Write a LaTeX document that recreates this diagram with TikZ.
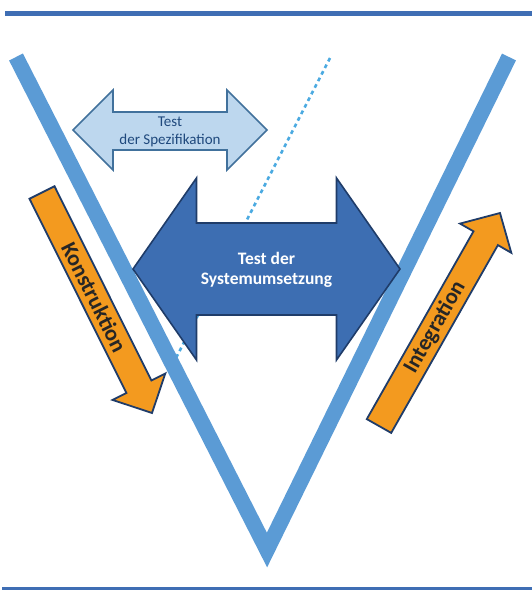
\documentclass[tikz,border=0pt]{standalone}
\usepackage{fontspec}
\setmainfont{Carlito}
\usetikzlibrary{calc}

\definecolor{rulebl}{RGB}{63,110,180}
\definecolor{vblue}{RGB}{91,155,213}
\definecolor{dotbl}{RGB}{75,170,225}
\definecolor{specfill}{RGB}{189,215,238}
\definecolor{specline}{RGB}{65,113,156}
\definecolor{spectxt}{RGB}{31,73,125}
\definecolor{sysfill}{RGB}{61,110,178}
\definecolor{navy}{RGB}{31,60,105}
\definecolor{orangefill}{RGB}{243,154,31}
\definecolor{darktext}{RGB}{38,38,38}

\tikzset{
  rulebar/.style={fill=rulebl},
  vline/.style={draw=vblue, line width=15.5pt, line join=miter},
  guide/.style={draw=dotbl, line width=2.6pt, dash pattern=on 3.8pt off 3.6pt},
  specarrow/.style={fill=specfill, draw=specline, line width=1.6pt, line join=miter},
  sysarrow/.style={fill=sysfill, draw=navy, line width=1.6pt, line join=miter},
  phasearrow/.style={fill=orangefill, draw=navy, line width=1.8pt, line join=miter},
  spectext/.style={text=spectxt, font=\fontsize{15}{17.5}\selectfont, align=center, inner sep=0pt},
  systext/.style={text=white, font=\fontsize{17.5}{20.5}\selectfont\bfseries, align=center, inner sep=0pt},
  phasetext/.style={text=darktext, font=\fontsize{22.3}{24}\selectfont\bfseries, inner sep=0pt, sloped},
}

\begin{document}
\begin{tikzpicture}[x=1pt,y=-1pt]
  \useasboundingbox (0,0) rectangle (532,590);

  % horizontal rules
  \fill[rulebar] (5,11) rectangle (532,16);
  \fill[rulebar] (2,587) rectangle (532,590);

  % dotted guide line, parallel to the right leg
  \coordinate (g1) at (330,58);
  \coordinate (g2) at (176,358);
  \draw[guide] (g1) -- (g2);

  % the V
  \coordinate (vl) at (16,57);
  \coordinate (vb) at (267,550);
  \coordinate (vr) at (509,57);
  \draw[vline] (vl) -- (vb) -- (vr);

  % specification test (double arrow)
  \draw[specarrow] (73,130) -- (113,90) -- (113,112) -- (227,112) -- (227,90)
    -- (267,130) -- (227,170) -- (227,150) -- (113,150) -- (113,170) -- cycle;
  \node[spectext] (spec) at (170,132) {Test\\der Spezifikation};

  % system implementation test (double arrow)
  \draw[sysarrow] (133,269) -- (196.5,178) -- (196.5,223) -- (336.5,223) -- (336.5,178)
    -- (400,269) -- (336.5,360) -- (336.5,315) -- (196.5,315) -- (196.5,360) -- cycle;
  \node[systext] (sys) at (266.5,270) {Test der\\Systemumsetzung};

  % construction arrow (down the left leg)
  \coordinate (ktail) at (42,192.5);
  \coordinate (ktip) at (152,413);
  \draw[phasearrow] (54.5,186.25) -- (151.4,380.5) -- (165.3,373.5) -- (ktip)
    -- (112.5,399.9) -- (126.4,393.0) -- (29.5,198.75) -- cycle;
  \path (ktail) -- (ktip) node[phasetext, pos=0.475] (kon) {Konstruktion};

  % integration arrow (up the right leg)
  \coordinate (itail) at (379,426);
  \coordinate (itip) at (500,213);
  \draw[phasearrow] (366.8,419.1) -- (473.5,231.3) -- (460.0,223.6) -- (itip)
    -- (511.3,252.8) -- (497.9,245.1) -- (391.2,432.9) -- cycle;
  \path (itail) -- (itip) node[phasetext, pos=0.463] (integ) {Integration};
\end{tikzpicture}
\end{document}
